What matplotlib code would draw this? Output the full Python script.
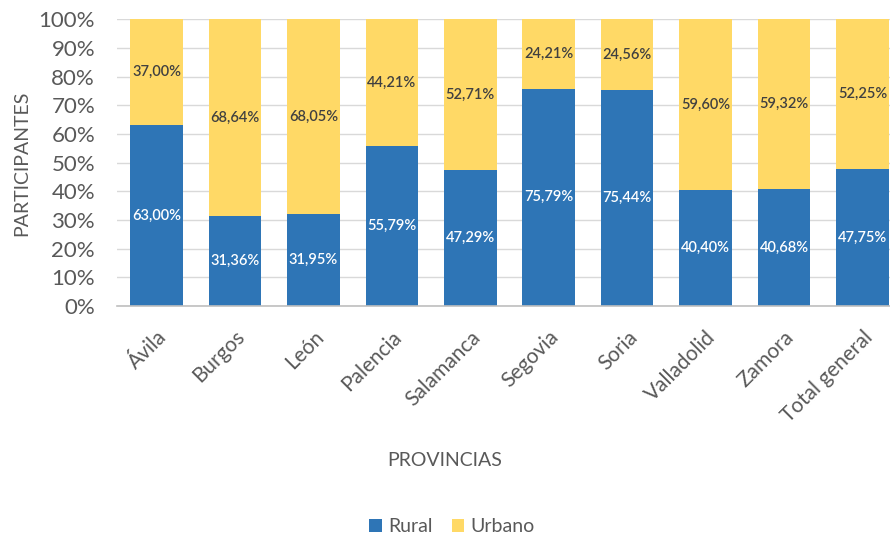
import matplotlib
matplotlib.use("Agg")
import matplotlib.pyplot as plt
import numpy as np
from matplotlib.ticker import PercentFormatter

plt.rcParams['font.family'] = ['Lato', 'DejaVu Sans']

provincias = ["Ávila", "Burgos", "León", "Palencia", "Salamanca", "Segovia",
              "Soria", "Valladolid", "Zamora", "Total general"]
rural = [63.00, 31.36, 31.95, 55.79, 47.29, 75.79, 75.44, 40.40, 40.68, 47.75]
urbano = [37.00, 68.64, 68.05, 44.21, 52.71, 24.21, 24.56, 59.60, 59.32, 52.25]

c_rural = "#2E75B6"
c_urbano = "#FFD966"
txt = "#595959"

fig = plt.figure(figsize=(8.9, 5.37), dpi=100)
ax = fig.add_axes([117.3 / 890, 1 - 306 / 537, (901.7 - 117.3) / 890, (306 - 19.3) / 537])

x = np.arange(len(provincias))
w = 0.67
b1 = ax.bar(x, rural, w, color=c_rural, label="Rural", zorder=2)
b2 = ax.bar(x, urbano, w, bottom=rural, color=c_urbano, label="Urbano", zorder=2)

def fmt(v):
    return f"{v:.2f}%".replace(".", ",")

for xi, r, u in zip(x, rural, urbano):
    ax.text(xi, r / 2, fmt(r), ha="center", va="center", color="white",
            fontsize=10.5, fontweight="semibold", zorder=3)
    ax.text(xi, r + u / 2, fmt(u), ha="center", va="center", color="#404040",
            fontsize=10.5, fontweight="semibold", zorder=3)

ax.set_xlim(-0.5, len(provincias) - 0.5)
ax.set_ylim(0, 100)
ax.set_yticks(np.arange(0, 101, 10))
ax.yaxis.set_major_formatter(PercentFormatter(decimals=0))
ax.grid(axis="y", color="#D9D9D9", linewidth=1, zorder=0)
ax.set_axisbelow(True)
for s in ["left", "right", "top"]:
    ax.spines[s].set_visible(False)
ax.spines["bottom"].set_color("#BFBFBF")
ax.spines["bottom"].set_linewidth(1.2)
ax.tick_params(axis="both", length=0, colors=txt)
ax.tick_params(axis="y", pad=16, labelsize=16)
ax.set_xticks(x)
ax.set_xticklabels(provincias, rotation=45, ha="right", rotation_mode="anchor",
                   fontsize=15)
ax.tick_params(axis="x", pad=15)

fig.text(22 / 890, 1 - 163 / 537, "PARTICIPANTES", rotation=90, ha="center",
         va="center", color=txt, fontsize=14)
fig.text(445 / 890, 1 - 460 / 537, "PROVINCIAS", ha="center", va="center",
         color=txt, fontsize=14)

fig.legend(handles=[b1, b2], labels=["Rural", "Urbano"], loc="center",
           bbox_to_anchor=(452 / 890, 1 - 527 / 537), ncol=2, frameon=False,
           fontsize=14, labelcolor=txt, handlelength=0.65, handleheight=0.65,
           handletextpad=0.3, columnspacing=1.0)

fig.savefig("out.png", dpi=100)
